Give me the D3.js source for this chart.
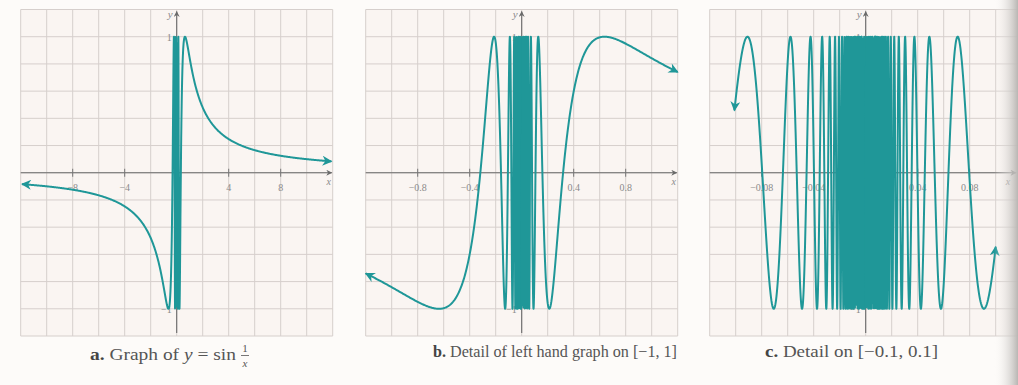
<!DOCTYPE html>
<html>
<head>
<meta charset="utf-8">
<script src="https://cdn.jsdelivr.net/npm/d3@7"></script>
<style>
  html, body { margin: 0; padding: 0; background: #fdfbf9; }
  svg { display: block; }
</style>
</head>
<body>
<svg id="chart" width="1018" height="385"></svg>
<script>
// ---- data ----
const panelIds = ["a", "b", "c"];
const captionLetters = ["a.", "b.", "c."];
const captionTexts = ["Graph of ", "Detail of left hand graph on [\u22121, 1]", "Detail on [\u22120.1, 0.1]"];
const xDomains = [[-12, 12], [-1.2, 1.2], [-0.12, 0.12]];
const gridSteps = [2, 0.2, 0.02];
const xTickValues = [[-8, -4, 4, 8], [-0.8, -0.4, 0.4, 0.8], [-0.08, -0.04, 0.04, 0.08]];
const xTickLabels = [["\u22128", "\u22124", "4", "8"], ["\u22120.8", "\u22120.4", "0.4", "0.8"], ["\u22120.08", "\u22120.04", "0.04", "0.08"]];
const curveDomains = [[-11.9, 11.9], [-1.2, 1.2], [-0.101, 0.1]];
const yDomain = [-1.2, 1.2];
const yTickValues = [1, -1];
const yTickLabels = ["1", "\u22121"];
// the plotted function, as named in caption a: y = sin(1/x)
const plottedFunction = x => Math.sin(1 / x);

// ---- layout ----
const originX = [176.7, 521.7, 865.7];
const halfW = 156;
const yTop = 9.5, yBot = 336;
const teal = "#1f9798";

const svg = d3.select("#chart");
const defs = svg.append("defs");

// right-edge page shadow
const sh = defs.append("linearGradient").attr("id", "shadow").attr("x1", 0).attr("x2", 1);
sh.append("stop").attr("offset", 0).attr("stop-color", "#fdfbf9").attr("stop-opacity", 0);
sh.append("stop").attr("offset", 1).attr("stop-color", "#b9b6b3").attr("stop-opacity", 1);

defs.append("marker").attr("id", "curveArrow")
  .attr("viewBox", "0 0 10 10").attr("refX", 9).attr("refY", 5)
  .attr("markerUnits", "userSpaceOnUse").attr("markerWidth", 12).attr("markerHeight", 10)
  .attr("orient", "auto-start-reverse")
  .append("path").attr("d", "M0,0 L10,5 L0,10 L3,5 Z").attr("fill", teal);

defs.append("marker").attr("id", "axisArrow")
  .attr("viewBox", "0 0 10 10").attr("refX", 9).attr("refY", 5)
  .attr("markerUnits", "userSpaceOnUse").attr("markerWidth", 8).attr("markerHeight", 6)
  .attr("orient", "auto")
  .append("path").attr("d", "M0,0 L10,5 L0,10 L3,5 Z").attr("fill", "#6a6a6a");

function sampleBranch(a, b, pxPerUnit) {
  const pts = [];
  let x = a;
  while (x <= b) {
    if (x !== 0) pts.push([x, plottedFunction(x)]);
    const step = Math.max(Math.min(x * x * 0.06, 0.5 / pxPerUnit), 0.04 / pxPerUnit);
    x += step;
  }
  pts.push([b, plottedFunction(b)]);
  return pts;
}

panelIds.forEach((id, i) => {
  const x = d3.scaleLinear().domain(xDomains[i]).range([originX[i] - halfW, originX[i] + halfW]);
  const y = d3.scaleLinear().domain(yDomain).range([yBot, yTop]);
  const g = svg.append("g").attr("class", "panel-" + id);
  const pxPerUnit = (2 * halfW) / (xDomains[i][1] - xDomains[i][0]);

  g.append("rect").attr("x", x.range()[0]).attr("y", yTop)
    .attr("width", 2 * halfW).attr("height", yBot - yTop).attr("fill", "#faf5f2");

  const step = gridSteps[i];
  const nX = Math.round((xDomains[i][1] - xDomains[i][0]) / step);
  const gx = d3.range(nX + 1).map(k => xDomains[i][0] + k * step);
  const gy = d3.range(13).map(k => yDomain[0] + k * 0.2);
  g.selectAll(".vg").data(gx).join("line")
    .attr("x1", d => x(d)).attr("x2", d => x(d)).attr("y1", yTop).attr("y2", yBot)
    .attr("stroke", "#d6cfcc").attr("stroke-width", 1);
  g.selectAll(".hg").data(gy).join("line")
    .attr("x1", x.range()[0]).attr("x2", x.range()[1]).attr("y1", d => y(d)).attr("y2", d => y(d))
    .attr("stroke", "#d6cfcc").attr("stroke-width", 1);

  // axes
  g.append("line").attr("x1", x.range()[0]).attr("x2", Math.min(x.range()[1] - 1, 1016))
    .attr("y1", y(0)).attr("y2", y(0)).attr("stroke", "#6a6a6a").attr("stroke-width", 1.1)
    .attr("marker-end", "url(#axisArrow)");
  g.append("line").attr("x1", x(0)).attr("x2", x(0))
    .attr("y1", yBot - 3).attr("y2", yTop + 2).attr("stroke", "#6a6a6a").attr("stroke-width", 1.1)
    .attr("marker-end", "url(#axisArrow)");

  g.selectAll(".xt").data(xTickValues[i]).join("line")
    .attr("x1", d => x(d)).attr("x2", d => x(d)).attr("y1", y(0) - 4).attr("y2", y(0) + 4)
    .attr("stroke", "#777");
  g.selectAll(".xl").data(xTickValues[i]).join("text")
    .attr("x", d => x(d)).attr("y", y(0) + 18)
    .attr("text-anchor", "middle").attr("font-family", "Liberation Serif, serif")
    .attr("font-size", 10).attr("fill", "#8a8a8a")
    .text((d, k) => xTickLabels[i][k]);
  g.selectAll(".yl").data(yTickValues).join("text")
    .attr("x", x(0) - 5).attr("y", d => y(d) + 4)
    .attr("text-anchor", "end").attr("font-family", "Liberation Serif, serif")
    .attr("font-size", 10).attr("fill", "#8a8a8a")
    .text((d, k) => yTickLabels[k]);
  g.append("text").attr("x", x(0) - 4).attr("y", yTop + 8).attr("text-anchor", "end")
    .attr("font-family", "Liberation Serif, serif").attr("font-style", "italic")
    .attr("font-size", 11).attr("fill", "#8a8a8a").text("y");
  g.append("text").attr("x", Math.min(x.range()[1] - 4, 1008)).attr("y", y(0) + 12).attr("text-anchor", "middle")
    .attr("font-family", "Liberation Serif, serif").attr("font-style", "italic")
    .attr("font-size", 10).attr("fill", "#8a8a8a").text("x");

  // curve
  const line = d3.line().x(d => x(d[0])).y(d => y(d[1]));
  const tiny = 0.02 / pxPerUnit;
  const neg = sampleBranch(curveDomains[i][0], -tiny, pxPerUnit);
  const pos = sampleBranch(tiny, curveDomains[i][1], pxPerUnit);
  g.append("path").attr("d", line(neg)).attr("fill", "none")
    .attr("stroke", teal).attr("stroke-width", 2).attr("stroke-linejoin", "round")
    .attr("marker-start", "url(#curveArrow)");
  g.append("path").attr("d", line(pos)).attr("fill", "none")
    .attr("stroke", teal).attr("stroke-width", 2).attr("stroke-linejoin", "round")
    .attr("marker-end", "url(#curveArrow)");
});

// captions
const capX = [90, 433, 765];
const capY = [360, 357, 357];
const capWidths = [146, 244, 173];
panelIds.forEach((id, i) => {
  const t = svg.append("text").attr("x", capX[i]).attr("y", capY[i])
    .attr("font-family", "Liberation Serif, serif").attr("font-size", 16).attr("fill", "#555")
    .attr("textLength", capWidths[i]).attr("lengthAdjust", "spacingAndGlyphs");
  t.append("tspan").attr("font-weight", "bold").attr("fill", "#444").text(captionLetters[i] + " ");
  t.append("tspan").text(captionTexts[i]);
  if (i === 0) {
    t.append("tspan").attr("font-style", "italic").text("y");
    t.append("tspan").text(" = sin");
    const fx = capX[i] + capWidths[i] + 9;
    svg.append("text").attr("x", fx).attr("y", capY[i] - 8).attr("text-anchor", "middle")
      .attr("font-family", "Liberation Serif, serif").attr("font-size", 11).attr("fill", "#555").text("1");
    svg.append("line").attr("x1", fx - 4).attr("x2", fx + 4).attr("y1", capY[i] - 4.5).attr("y2", capY[i] - 4.5)
      .attr("stroke", "#555").attr("stroke-width", 0.8);
    svg.append("text").attr("x", fx).attr("y", capY[i] + 7).attr("text-anchor", "middle")
      .attr("font-family", "Liberation Serif, serif").attr("font-style", "italic")
      .attr("font-size", 11).attr("fill", "#555").text("x");
  }
});

svg.append("rect").attr("x", 994).attr("y", 0).attr("width", 24).attr("height", 385).attr("fill", "url(#shadow)");
</script>
</body>
</html>
